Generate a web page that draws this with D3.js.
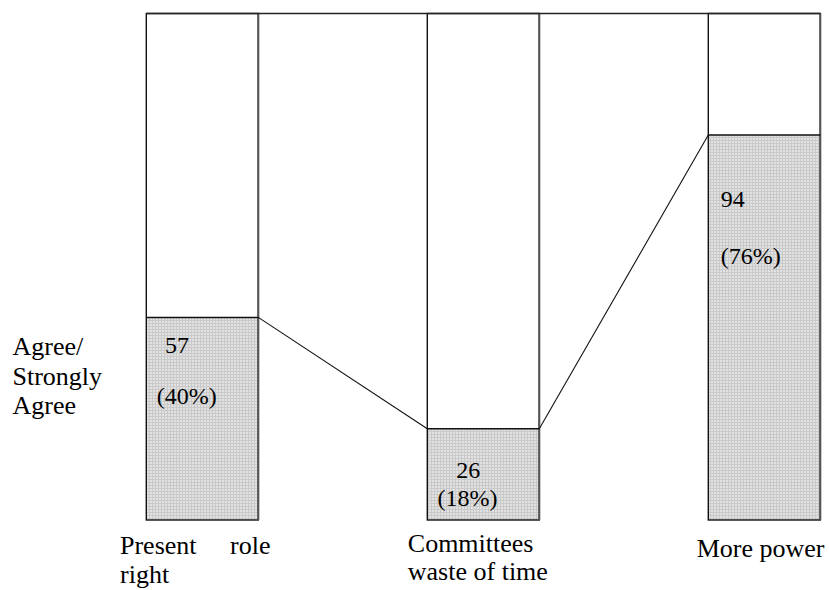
<!DOCTYPE html>
<html>
<head>
<meta charset="utf-8">
<script src="https://cdn.jsdelivr.net/npm/d3@7"></script>
<style>
  html, body { margin: 0; padding: 0; background: #fff; }
  svg { display: block; }
  svg text { font-family: "Liberation Serif", "Times New Roman", Times, "DejaVu Serif", serif; fill: #000; }
</style>
</head>
<body>
<svg id="chart" width="829" height="590"></svg>
<script>
// ---- data ----
const categories = ["Present role right", "Committees waste of time", "More power"];
const categoryLines = [["Present role", "right"], ["Committees", "waste of time"], ["More power"]];
const counts = [57, 26, 94];
const percents = [40, 18, 76];
const yAxisLabel = ["Agree/", "Strongly", "Agree"];

// ---- layout ----
const plotTop = 13.5, plotBottom = 520;
const FONT = "'Liberation Serif', 'Times New Roman', Times, 'DejaVu Serif', serif";
const svg = d3.select("#chart");

const x = d3.scaleBand().domain(categories).range([146.3, 820.3]).paddingInner(0.6014).paddingOuter(0);
const y = d3.scaleLinear().domain([0, 100]).range([plotBottom, plotTop]);

// pattern for the stippled fill
const defs = svg.append("defs");
const pat = defs.append("pattern").attr("id", "stipple").attr("patternUnits", "userSpaceOnUse")
  .attr("width", 3).attr("height", 3);
pat.append("rect").attr("width", 3).attr("height", 3).attr("fill", "#c9c9c9");
pat.append("rect").attr("x", 0).attr("y", 0).attr("width", 2).attr("height", 2).attr("fill", "#e2e2e2");

const idx = d3.range(categories.length);

// filled parts
svg.selectAll("rect.fill").data(idx).join("rect")
  .attr("class", "fill")
  .attr("x", i => x(categories[i]))
  .attr("y", i => y(percents[i]))
  .attr("width", x.bandwidth())
  .attr("height", i => y(0) - y(percents[i]))
  .attr("fill", "url(#stipple)");

// bar outlines
svg.selectAll("rect.outline").data(idx).join("rect")
  .attr("class", "outline")
  .attr("x", i => x(categories[i]))
  .attr("y", y(100))
  .attr("width", x.bandwidth())
  .attr("height", y(0) - y(100))
  .attr("fill", "none")
  .attr("stroke", "#111")
  .attr("stroke-width", 1.4);

// right edges grayish/thicker
svg.selectAll("line.redge").data(idx).join("line")
  .attr("class", "redge")
  .attr("x1", i => x(categories[i]) + x.bandwidth())
  .attr("x2", i => x(categories[i]) + x.bandwidth())
  .attr("y1", y(100)).attr("y2", y(0))
  .attr("stroke", "#555").attr("stroke-width", 2);

// top-of-fill lines
svg.selectAll("line.ftop").data(idx).join("line")
  .attr("class", "ftop")
  .attr("x1", i => x(categories[i]))
  .attr("x2", i => x(categories[i]) + x.bandwidth())
  .attr("y1", i => y(percents[i])).attr("y2", i => y(percents[i]))
  .attr("stroke", "#111").attr("stroke-width", 1.5);

// top connecting line
svg.append("line")
  .attr("x1", x(categories[0])).attr("x2", x(categories[categories.length - 1]) + x.bandwidth())
  .attr("y1", y(100)).attr("y2", y(100))
  .attr("stroke", "#222").attr("stroke-width", 1.4);

// connectors between fill tops
svg.selectAll("line.conn").data(d3.range(categories.length - 1)).join("line")
  .attr("class", "conn")
  .attr("x1", i => x(categories[i]) + x.bandwidth())
  .attr("y1", i => y(percents[i]))
  .attr("x2", i => x(categories[i + 1]))
  .attr("y2", i => y(percents[i + 1]))
  .attr("stroke", "#111").attr("stroke-width", 1.1);

// value labels (offsets relative to bar left / fill top)
const valOffsets = [
  { cx: 18.7, cy: 35.5, px: 10.4, py: 86.5 },
  { cx: 29, cy: 49, px: 10.3, py: 77 },
  { cx: 12.4, cy: 71.5, px: 12.4, py: 128.5 }
];
svg.selectAll("text.count").data(idx).join("text")
  .attr("class", "count")
  .attr("x", i => x(categories[i]) + valOffsets[i].cx)
  .attr("y", i => y(percents[i]) + valOffsets[i].cy)
  .attr("font-family", FONT)
  .attr("font-size", 24)
  .text(i => counts[i]);
svg.selectAll("text.pct").data(idx).join("text")
  .attr("class", "pct")
  .attr("x", i => x(categories[i]) + valOffsets[i].px)
  .attr("y", i => y(percents[i]) + valOffsets[i].py)
  .attr("font-family", FONT)
  .attr("font-size", 24)
  .text(i => "(" + percents[i] + "%)");

// category labels (first line of first label is justified across a width)
const labOffsets = [
  { dx: -26.3, ys: [554, 582.5], widths: [150.5, null] },
  { dx: -19.5, ys: [551.7, 580], widths: [null, null] },
  { dx: -11.6, ys: [557], widths: [null] }
];
idx.forEach(i => {
  categoryLines[i].forEach((ln, j) => {
    const x0 = x(categories[i]) + labOffsets[i].dx;
    const yy = labOffsets[i].ys[j];
    const w = labOffsets[i].widths[j];
    const words = ln.split(" ");
    if (w && words.length > 1) {
      svg.append("text").attr("x", x0).attr("y", yy)
        .attr("font-family", FONT).attr("font-size", 26)
        .text(words.slice(0, -1).join(" "));
      svg.append("text").attr("x", x0 + w).attr("y", yy)
        .attr("text-anchor", "end")
        .attr("font-family", FONT).attr("font-size", 26)
        .text(words[words.length - 1]);
    } else {
      svg.append("text").attr("x", x0).attr("y", yy)
        .attr("font-family", FONT).attr("font-size", 26)
        .text(ln);
    }
  });
});

// y-side label
const ysLab = [355, 385, 414];
svg.selectAll("text.ylab").data(yAxisLabel).join("text")
  .attr("class", "ylab")
  .attr("x", 12.5)
  .attr("y", (d, i) => ysLab[i])
  .attr("font-family", FONT)
  .attr("font-size", 26)
  .text(d => d);
</script>
</body>
</html>
